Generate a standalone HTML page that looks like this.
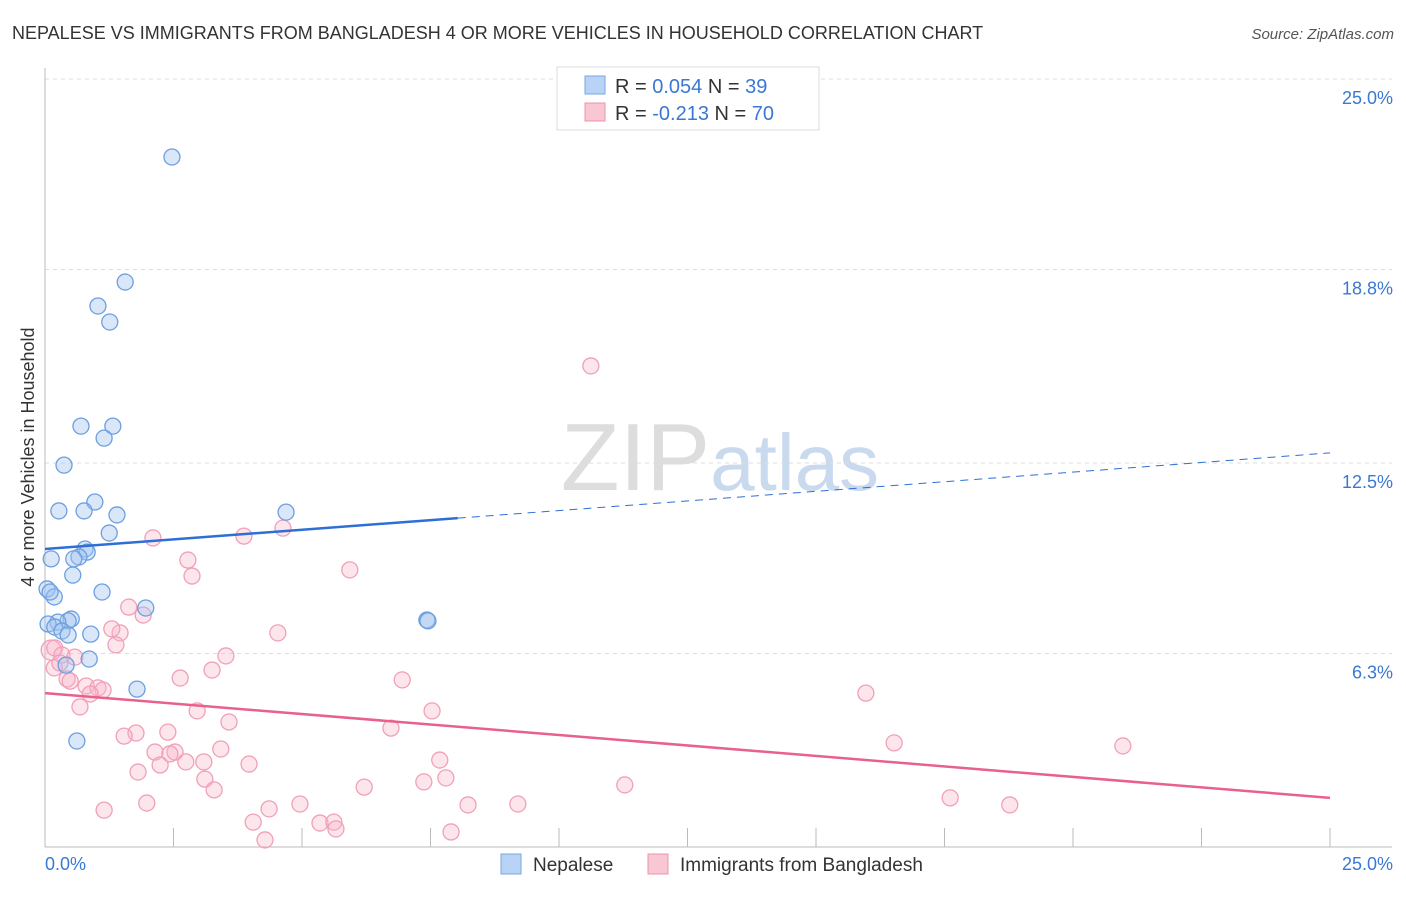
<!DOCTYPE html>
<html><head><meta charset="utf-8"><style>
body{margin:0;background:#fff;font-family:"Liberation Sans",sans-serif;}
svg text{font-family:"Liberation Sans",sans-serif;}
</style></head><body>
<svg id="chart" width="1406" height="892" xmlns="http://www.w3.org/2000/svg">
<text x="12" y="39" font-size="18" fill="#333">NEPALESE VS IMMIGRANTS FROM BANGLADESH 4 OR MORE VEHICLES IN HOUSEHOLD CORRELATION CHART</text>
<text x="1394" y="39" font-size="15" fill="#555" text-anchor="end" font-style="italic">Source: ZipAtlas.com</text>
<text x="720" y="490" font-size="96" text-anchor="middle" fill="#ddd" font-family="Liberation Serif"><tspan>ZIP</tspan><tspan fill="#c9d9ee" font-family="Liberation Sans" font-size="80">atlas</tspan></text>
<text transform="translate(34,457) rotate(-90)" font-size="18" fill="#333" text-anchor="middle">4 or more Vehicles in Household</text>
<g id="grid"></g><g id="axes"></g><g id="marks"></g>
<g>
<rect x="557" y="67" width="262" height="63" fill="#fff" stroke="#ddd"/>
<rect x="585" y="76" width="20" height="18" fill="#b8d3f5" stroke="#7aa7e0"/>
<rect x="585" y="103" width="20" height="18" fill="#f9c6d4" stroke="#ec93ad"/>
<text x="615" y="93" font-size="20" fill="#333">R = <tspan fill="#3a78d4">0.054</tspan>   N = <tspan fill="#3a78d4">39</tspan></text>
<text x="615" y="120" font-size="20" fill="#333">R = <tspan fill="#3a78d4">-0.213</tspan>   N = <tspan fill="#3a78d4">70</tspan></text>
</g>
<g>
<rect x="501" y="854" width="20" height="20" fill="#b8d3f5" stroke="#7aa7e0"/>
<text x="533" y="871" font-size="19" fill="#333">Nepalese</text>
<rect x="648" y="854" width="20" height="20" fill="#f9c6d4" stroke="#ec93ad"/>
<text x="680" y="871" font-size="19" fill="#333">Immigrants from Bangladesh</text>
</g>
</svg>
<script>
const yTicks=[25,18.8,12.5,6.3];
const yTickLabels=["25.0%","18.8%","12.5%","6.3%"];
const xTickLabels=["0.0%","25.0%"];
const nepX=[2.47,1.56,1.03,1.26,0.70,1.32,1.15,0.37,0.97,0.27,0.76,1.40,4.69,1.25,0.78,0.82,0.66,0.56,0.12,0.54,0.04,0.18,1.11,1.96,0.51,0.45,0.25,0.06,0.19,0.33,0.45,0.89,7.43,7.45,0.86,0.41,1.79,0.62,0.10];
const nepY=[22.46,18.39,17.61,17.09,13.70,13.70,13.31,12.43,11.23,10.94,10.94,10.81,10.90,10.22,9.70,9.60,9.44,9.38,9.38,8.85,8.40,8.14,8.30,7.78,7.42,7.36,7.32,7.26,7.16,7.03,6.90,6.93,7.39,7.36,6.12,5.92,5.14,3.45,8.30];
const banX=[10.62,4.63,3.87,2.10,2.78,2.86,5.93,1.63,1.91,1.46,1.30,4.53,1.38,0.12,0.19,0.33,0.58,3.52,3.25,0.18,0.43,0.49,2.63,6.95,0.80,1.03,1.13,0.88,15.97,0.68,2.96,7.53,3.58,6.73,1.77,1.54,2.39,16.52,20.97,3.42,2.14,2.53,2.43,2.74,3.09,7.68,3.97,2.24,1.81,3.11,7.80,3.29,6.21,7.37,11.28,1.98,4.96,4.36,8.23,9.20,17.61,18.77,1.15,4.05,5.35,5.62,5.66,7.90,4.28,0.29];
const banY=[15.66,10.38,10.12,10.06,9.34,8.82,9.02,7.81,7.55,6.97,7.10,6.97,6.58,6.41,6.48,6.25,6.18,6.22,5.76,5.83,5.47,5.40,5.50,5.44,5.24,5.18,5.11,4.98,5.01,4.56,4.43,4.43,4.07,3.87,3.71,3.61,3.74,3.39,3.29,3.19,3.09,3.09,3.03,2.77,2.77,2.83,2.70,2.67,2.44,2.21,2.25,1.86,1.95,2.12,2.02,1.43,1.40,1.24,1.37,1.40,1.60,1.37,1.20,0.81,0.78,0.81,0.59,0.49,0.23,5.99];
const nepTrend=[9.70,12.83]; const nepSolidEnd=8.03;
const banTrend=[5.01,1.60];
const X=v=>45+v*51.4, Y=v=>847-v*30.72;
const NS="http://www.w3.org/2000/svg";
function mk(tag,parent,attrs){const e=document.createElementNS(NS,tag);for(const k in attrs)e.setAttribute(k,attrs[k]);document.getElementById(parent).appendChild(e);return e;}
yTicks.forEach((t,i)=>{
 const g=mk('line','grid',{x1:45,x2:1392,y1:Y(t),y2:Y(t),stroke:'#ddd','stroke-dasharray':'4,4'});
 
 
 const l=mk('text','grid',{x:1393,y:Y(t)+25,'font-size':18,fill:'#3a78d4','text-anchor':'end'});l.textContent=yTickLabels[i];
 
 
});
const ax=mk('line','axes',{x1:45,x2:45,y1:68,y2:847,stroke:'#bbb'});


const bx=mk('line','axes',{x1:45,x2:1392,y1:847,y2:847,stroke:'#bbb'});


for(let i=0;i<=10;i++){const t=mk('line','axes',{x1:X(i*2.5),x2:X(i*2.5),y1:828,y2:847,stroke:'#bbb'});
 
 }
[[0,'start',45],[25,'end',1393]].forEach((d,i)=>{const l=mk('text','axes',{x:d[2],y:870,'font-size':18,fill:'#3a78d4','text-anchor':d[1]});l.textContent=xTickLabels[i];
 
 });
banX.forEach((x,i)=>{const c=mk('circle','marks',{cx:X(x),cy:Y(banY[i]),r:i==13?10:8,fill:'rgba(248,180,200,0.35)',stroke:'#f0a0b8','stroke-width':1.3});
 
 });
nepX.forEach((x,i)=>{const c=mk('circle','marks',{cx:X(x),cy:Y(nepY[i]),r:8,fill:'rgba(160,195,240,0.4)',stroke:'#6d9fe0','stroke-width':1.3});
 
 });
const slope=(nepTrend[1]-nepTrend[0])/25;
const l1=mk('line','marks',{x1:X(0),y1:Y(nepTrend[0]),x2:X(nepSolidEnd),y2:Y(nepTrend[0]+slope*nepSolidEnd),stroke:'#2e6fd6','stroke-width':2.5});


const l2=mk('line','marks',{x1:X(nepSolidEnd),y1:Y(nepTrend[0]+slope*nepSolidEnd),x2:X(25),y2:Y(nepTrend[1]),stroke:'#2e6fd6','stroke-width':1,'stroke-dasharray':'8,6'});


const l3=mk('line','marks',{x1:X(0),y1:Y(banTrend[0]),x2:X(25),y2:Y(banTrend[1]),stroke:'#e8608c','stroke-width':2.5});


</script>
</body></html>
